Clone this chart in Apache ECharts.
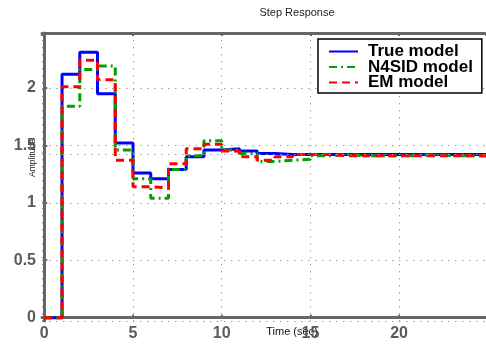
<!DOCTYPE html>
<html>
<head>
<meta charset="utf-8">
<script src="https://cdn.jsdelivr.net/npm/echarts@6/dist/echarts.min.js"></script>
<style>
  html, body { margin: 0; padding: 0; background: #fff; }
  #chart { width: 486px; height: 347px; }
</style>
</head>
<body>
<div id="chart"></div>
<script>
// sample instants (sec), zero-order hold
var times = [0, 1, 2, 3, 4, 5, 6, 7, 8, 9, 10, 11, 12, 13, 14, 15, 16, 17, 18, 19, 20, 21, 22, 23, 24, 25];

var trueModel = [0, 2.12, 2.31, 1.95, 1.52, 1.26, 1.21, 1.29, 1.40, 1.46, 1.47, 1.45, 1.43, 1.42,
	1.42, 1.42, 1.42, 1.42, 1.42, 1.42, 1.42, 1.42, 1.42, 1.42, 1.42, 1.42];
var n4sidModel = [0, 1.84, 2.16, 2.19, 1.46, 1.21, 1.04, 1.29, 1.41, 1.54, 1.46, 1.43, 1.36, 1.37,
	1.38, 1.41, 1.42, 1.41, 1.41, 1.41, 1.41, 1.42, 1.41, 1.41, 1.41, 1.41];
var emModel = [0, 2.01, 2.24, 2.07, 1.37, 1.14, 1.13, 1.34, 1.47, 1.51, 1.45, 1.40, 1.37, 1.40,
	1.42, 1.42, 1.41, 1.41, 1.41, 1.41, 1.41, 1.41, 1.41, 1.41, 1.41, 1.41];

var seriesNames = ['True model', 'N4SID model', 'EM model'];
var steadyLine = 1.42; //extra dotted grid line seen in the picture

function pairs(values) {
	return times.map(function (t, i) {
		return [t, values[i]];
	});
}

var axisGray = '#666666';
var gridDots = { color: '#a0a0a0', width: 1, type: [1.5, 5.5] };
var labelFont = { color: '#5a5a5a', fontSize: 16, fontWeight: 'bold', fontFamily: 'Liberation Sans, Arial, sans-serif' };

var chart = echarts.init(document.getElementById('chart'), null, { renderer: 'canvas' });

chart.setOption({
	animation: false,
	backgroundColor: '#ffffff',
	title: {
		text: 'Step Response',
		left: 292,
		top: 2,
		textAlign: 'center',
		textStyle: { fontSize: 11, fontWeight: 'normal', color: '#222', fontFamily: 'Liberation Sans, Arial, sans-serif' }
	},
	grid: { left: 42, top: 33, width: 445.5, height: 288 },
	legend: {
		orient: 'vertical',
		left: 318,
		top: 39,
		padding: [4, 9, 2, 10],
		itemWidth: 29,
		itemHeight: 10,
		itemGap: -1.5,
		borderColor: '#000',
		borderWidth: 1.5,
		backgroundColor: '#fff',
		itemStyle: { opacity: 0 },
		textStyle: {
			fontSize: 17, fontWeight: 'bold', color: '#000', lineHeight: 15.5,
			padding: [0, 0, 0, 5],
			fontFamily: 'Liberation Sans, Arial, sans-serif'
		},
		data: seriesNames
	},
	xAxis: [{
		type: 'value',
		min: -0.13,
		max: 24.9,
		splitNumber: 5,
		axisLine: { lineStyle: { color: axisGray, width: 3 } },
		axisTick: { inside: true, length: 3, lineStyle: { color: axisGray, width: 2 } },
		axisLabel: Object.assign({ margin: 5, showMinLabel: false, showMaxLabel: false }, labelFont),
		splitLine: { show: true, lineStyle: gridDots }
	}, {
		type: 'value',
		position: 'top',
		min: -0.13,
		max: 24.9,
		splitNumber: 5,
		axisLine: { show: true, lineStyle: { color: axisGray, width: 3 } },
		axisTick: { show: true, inside: true, length: 3, lineStyle: { color: axisGray, width: 2 } },
		axisLabel: { show: false },
		splitLine: { show: false }
	}],
	yAxis: {
		type: 'value',
		min: -0.029,
		max: 2.478,
		splitNumber: 5,
		axisLine: { show: true, lineStyle: { color: axisGray, width: 3 } },
		axisTick: { show: true, inside: true, length: 3, lineStyle: { color: axisGray, width: 2 } },
		axisLabel: Object.assign({ margin: 6, showMinLabel: false, showMaxLabel: false }, labelFont),
		splitLine: { show: true, lineStyle: gridDots }
	},
	graphic: [{
		type: 'text',
		x: 292,
		y: 332,
		style: { text: 'Time (sec)', fill: '#111', font: '11px Liberation Sans, Arial, sans-serif', align: 'center', verticalAlign: 'middle' }
	}, {
		type: 'text',
		x: 33,
		y: 158,
		rotation: Math.PI / 2,
		style: { text: 'Amplitude', fill: '#111', font: '8.5px Liberation Sans, Arial, sans-serif', align: 'center', verticalAlign: 'middle' }
	}],
	series: [{
		name: seriesNames[0],
		type: 'line',
		step: 'end',
		symbol: 'none',
		data: pairs(trueModel),
		lineStyle: { color: '#0000ff', width: 3 },
		itemStyle: { color: '#0000ff' },
		markLine: {
			silent: true,
			symbol: 'none',
			label: { show: false },
			lineStyle: gridDots,
			data: [{ yAxis: steadyLine }]
		}
	}, {
		name: seriesNames[1],
		type: 'line',
		step: 'end',
		symbol: 'none',
		data: pairs(n4sidModel),
		lineStyle: { color: '#00a000', width: 3, type: [8, 4, 2, 4] },
		itemStyle: { color: '#00a000' }
	}, {
		name: seriesNames[2],
		type: 'line',
		step: 'end',
		symbol: 'none',
		data: pairs(emModel),
		lineStyle: { color: '#ff0000', width: 3, type: [8, 5] },
		itemStyle: { color: '#ff0000' }
	}]
});
</script>
</body>
</html>
